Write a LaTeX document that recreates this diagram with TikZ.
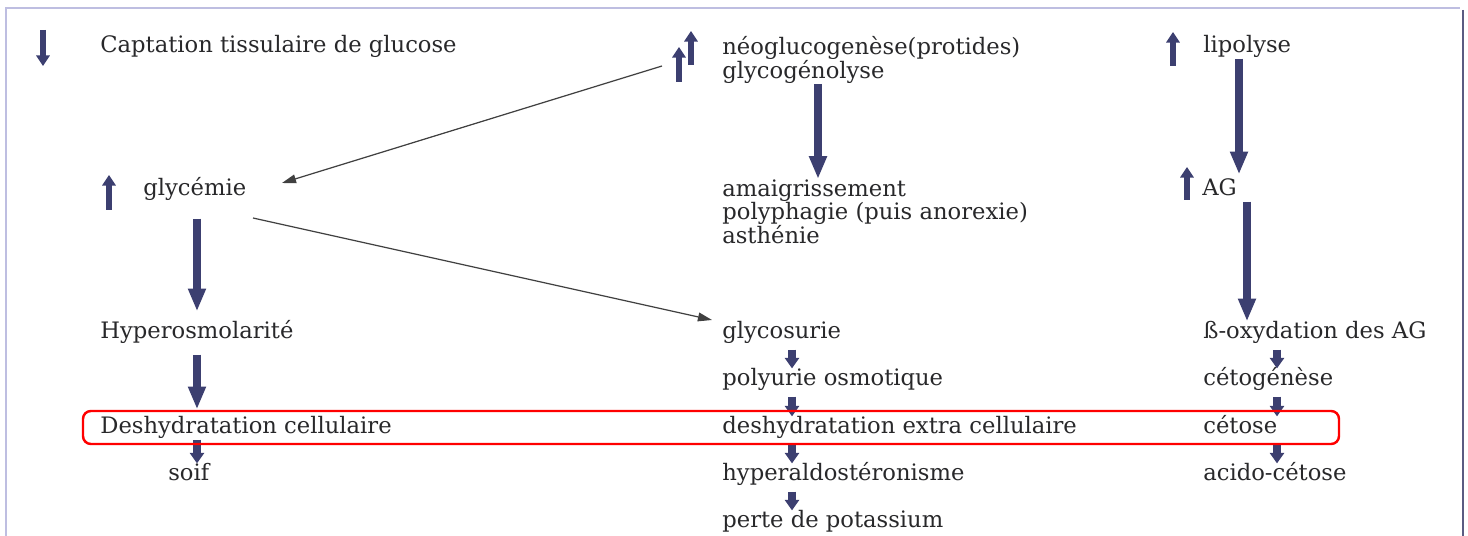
\documentclass[tikz,border=0pt]{standalone}
\usepackage{fontspec}
\setmainfont{DejaVu Serif}
\usetikzlibrary{arrows.meta}
\definecolor{txtgray}{RGB}{40,40,42}
\definecolor{navy}{RGB}{60,63,112}
\definecolor{framelight}{RGB}{190,190,225}
\definecolor{framedark}{RGB}{90,92,130}
\begin{document}
\begin{tikzpicture}[x=0.02cm,y=-0.02cm,
  lbl/.style={anchor=west,inner sep=0pt,text height=0.34cm,text depth=0.11cm,text=txtgray,font=\fontsize{12.9}{13.6}\selectfont},
  lbls/.style={anchor=north west,inner sep=0pt,align=left,text=txtgray,font=\fontsize{12.9}{13.6}\selectfont},
  fat/.style={draw=navy,line width=4pt,-{Triangle[length=13pt,width=9.5pt]}},
  hop/.style={draw=navy,line width=4pt,shorten <=0.1cm,-{Triangle[length=6pt,width=8pt]}},
  ind/.style={draw=navy,line width=3pt,-{Triangle[length=6pt,width=7.5pt]}},
  thin/.style={draw=black!75,line width=0.7pt,-{Triangle[length=8pt,width=5pt]}},
  hl/.style={draw=red,line width=1.4pt,rounded corners=4.5pt}]
\useasboundingbox (0,0) rectangle (1468,536);
% frame
\draw[framelight,line width=1pt] (6,536) -- (6,8) -- (1460,8);
\draw[framedark,line width=1.3pt] (1463,10) -- (1463,536);

% column positions of the arrows
\coordinate (k1) at (197,0);
\coordinate (k2) at (792,0);
\coordinate (k2b) at (818,0);
\coordinate (k3) at (1277,0);
\coordinate (k3a) at (1239,0);
\coordinate (k3b) at (1247,0);

% first row
\node[lbl] (capt) at (100,47) {Captation tissulaire de glucose};
\node[lbls] (neo) at (722,36) {néoglucogenèse(protides)\\glycogénolyse};
\node[lbl] (lipo) at (1203,47) {lipolyse};
\draw[ind] (43,30) -- (43,66);
\draw[ind] (679,82) -- (679,47);
\draw[ind] (691,65) -- (691,31);
\draw[ind] (1173,66) -- (1173,32);

% second row
\node[lbl] (glyc) at (143,190) {glycémie};
\node[lbls] (amai) at (722,179) {amaigrissement\\polyphagie (puis anorexie)\\asthénie};
\node[lbl] (ag) at (1202,190) {AG};
\draw[ind] (109,210) -- (109,175);
\draw[ind] (1187,200) -- (1187,167);

% lower rows
\node[lbl] (hyper) at (100,333) {Hyperosmolarité};
\node[lbl] (glycos) at (722,333) {glycosurie};
\node[lbl] (boxyd) at (1203,333) {ß-oxydation des AG};
\node[lbl] (polyu) at (722,380) {polyurie osmotique};
\node[lbl] (ceto) at (1203,380) {cétogénèse};
\node[lbl] (deshc) at (100,428) {Deshydratation cellulaire};
\node[lbl] (deshe) at (722,428) {deshydratation extra cellulaire};
\node[lbl] (cetose) at (1203,428) {cétose};
\node[lbl] (soif) at (168,475) {soif};
\node[lbl] (hald) at (722,475) {hyperaldostéronisme};
\node[lbl] (acido) at (1203,475) {acido-cétose};
\node[lbl] (perte) at (722,522) {perte de potassium};

% thin connectors
\coordinate (neo-out) at (662,66);
\coordinate (glyc-in) at (282,183);
\coordinate (glyc-out) at (253,218);
\coordinate (glycos-in) at (712,320);
\draw[thin] (neo-out) -- (glyc-in);
\draw[thin] (glyc-out) -- (glycos-in);

% big arrows
\draw[fat] (neo.south -| k2b) -- (amai.north -| k2b);
\draw[fat,shorten >=0.08cm] (lipo.south -| k3a) -- (ag.north -| k3a);
\draw[fat] (ag.south -| k3b) -- (boxyd.north -| k3b);
\draw[fat,shorten <=0.34cm,shorten >=0.2cm] (glyc.south -| k1) -- (hyper.north -| k1);
\draw[fat,shorten <=0.2cm,shorten >=0.14cm] (hyper.south -| k1) -- (deshc.north -| k1);
\draw[hop,shorten <=0pt] (deshc.south -| k1) -- (soif.north -| k1);

% small steps
\draw[hop] (glycos.south -| k2) -- (polyu.north -| k2);
\draw[hop] (polyu.south -| k2) -- (deshe.north -| k2);
\draw[hop] (deshe.south -| k2) -- (hald.north -| k2);
\draw[hop] (hald.south -| k2) -- (perte.north -| k2);
\draw[hop] (boxyd.south -| k3) -- (ceto.north -| k3);
\draw[hop] (ceto.south -| k3) -- (cetose.north -| k3);
\draw[hop] (cetose.south -| k3) -- (acido.north -| k3);

% highlight
\draw[hl] (83,411) rectangle (1339,444);
\end{tikzpicture}
\end{document}
